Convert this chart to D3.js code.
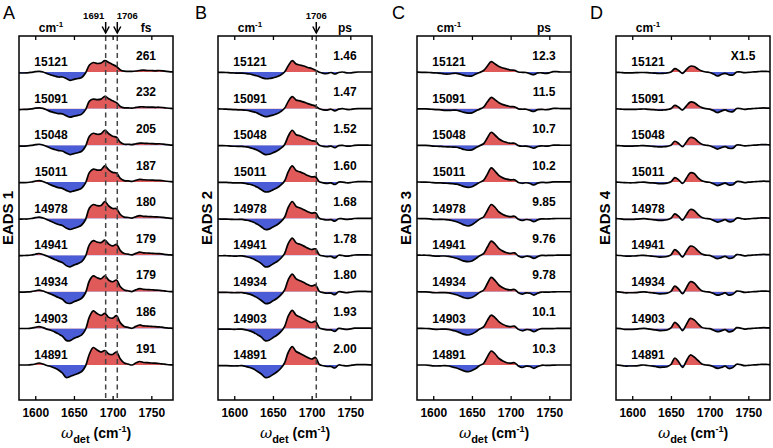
<!DOCTYPE html>
<html><head><meta charset="utf-8">
<script src="https://cdn.jsdelivr.net/npm/d3@7"></script>
<style>body{margin:0;background:#fff;} svg{display:block;font-family:"Liberation Sans",Arial,sans-serif;}</style>
</head><body><svg id="c" width="773" height="448"></svg>
<script>
// ---------- data ----------
const wavenumbers = [1575,1580,1585,1590,1595,1600,1605,1610,1615,1620,1625,1630,1635,1640,1645,1650,1655,1660,1665,1670,1675,1680,1685,1690,1695,1700,1705,1710,1715,1720,1725,1730,1735,1740,1745,1750,1755,1760,1765,1770,1775,1780];
const traceLabels = ["15121","15091","15048","15011","14978","14941","14934","14903","14891"];
const timesA = ["261","232","205","187","180","179","179","186","191"];
const timesB = ["1.46","1.47","1.52","1.60","1.68","1.78","1.80","1.93","2.00"];
const timesC = ["12.3","11.5","10.7","10.2","9.85","9.76","9.78","10.1","10.3"];
const xTicks = [1600,1650,1700,1750];
const markersA = [1691,1706];
const markersB = [1706];

const eads1 = [
[-1,-1,-1,-0.8,-0.3,0.3,0.6,0,-1.5,-3,-4,-5,-5,-6.5,-8.3,-7.3,-6.5,-5.5,-1,7,9.5,8.5,9,11.3,9.5,7.5,5.5,2,0.8,0.7,0.7,1,1.5,1.8,1.5,1.5,1.2,1.5,1.2,0.6,0.2,0],
[-1,-1,-0.8,-0.8,-0.3,0.5,0.8,0.2,-1.3,-3,-4,-5,-5.2,-7,-8.5,-7.5,-6.8,-5.5,-1,7.5,9.5,9,9.5,12.3,9.8,7.8,6,2.2,0.8,0.8,0.5,1.2,1.8,1.8,1.5,1.5,1.3,1.4,1.1,0.6,0.2,0],
[-0.8,-0.8,-0.8,-0.7,-0.2,0.6,1,0.3,-1.2,-3,-4.2,-5.3,-5.8,-7.8,-9.3,-8.3,-7.5,-6,-1,9,12,11,11.5,15,11.5,9,8,3,1,1,0.6,1.5,2.2,2,1.8,1.7,1.4,1.5,1.1,0.6,0.2,0],
[-0.7,-0.7,-0.7,-0.6,-0.1,0.7,1.2,0.4,-1.2,-3,-4.5,-5.8,-6.5,-8.5,-10,-9,-8,-6.2,-1,9.5,12.8,11.8,12,16,12,9.5,8.8,3.5,1.2,1,0.5,1.6,2.5,2.1,1.9,1.8,1.5,1.5,1.1,0.6,0.2,0],
[-0.6,-0.6,-0.5,-0.5,0,0.8,1.4,0.5,-1,-2.8,-4.5,-6,-7,-9.5,-11,-9.8,-8.5,-6.5,-1,10.5,14,12.8,13,17,12.5,10,9.8,4,1.4,1,0.4,1.8,2.8,2.2,2,1.9,1.6,1.5,1.1,0.6,0.2,0],
[-0.4,-0.4,-0.4,-0.3,0.1,0.9,1.6,0.6,-0.9,-2.5,-4.3,-6,-7.3,-10.5,-11.7,-10,-8.5,-6.5,-1,10.5,14.5,13,12.5,15,11,9.2,10.7,4.5,1.6,1,0.3,1.8,3,2.3,2.1,1.9,1.6,1.5,1,0.5,0.2,0],
[-0.3,-0.3,-0.3,-0.2,0.2,0.9,1.7,0.7,-0.8,-2.2,-4,-5.8,-7.5,-11,-11.7,-10,-8.5,-6.5,-1,11,15.8,14,13,16,11.5,10,11.7,5,1.8,1,0.2,1.9,3.2,2.4,2.2,2,1.7,1.5,1,0.5,0.2,0],
[-0.1,-0.1,-0.1,-0.1,0.2,1,1.8,0.8,-0.7,-1.8,-3.5,-5.5,-7.8,-12,-12.3,-10,-8.5,-6.5,-1,11.5,17.5,14.8,13,15,11,10.2,12.7,5.5,1.9,1,0.1,2,3.4,2.5,2.3,2,1.8,1.5,1,0.5,0.2,0],
[0,0,0,0,0.3,1,2,1,-0.5,-1.5,-3,-5,-8,-12.5,-11.5,-10,-8.5,-6.5,-1,11,17.5,15,13,14.5,11,10.5,13,6,2,1,0,2,3.5,2.5,2.3,2,1.8,1.5,1,0.5,0.2,0]
];
const eads2 = [
[-0.3,-0.3,-0.3,-0.5,-0.8,-1,-1.2,-1.2,-1.5,-2,-3,-4,-5.5,-6.7,-6.5,-5.8,-4.8,-3,0,6.5,11.3,8,7,6,4.5,3.5,1.7,-0.3,-1.3,-1.5,-0.5,-2,-0.5,0,-0.8,-1,-0.3,0,0,0,0,0],
[-0.3,-0.3,-0.4,-0.5,-0.8,-1,-1.2,-1.2,-1.6,-2.2,-3.2,-4.5,-6.5,-8,-7.5,-6.5,-5.2,-3,0.3,7.5,12,8.5,7.8,6.5,5,3.8,2.5,-0.2,-1.2,-1.5,-0.6,-2.2,-0.5,0,-0.8,-0.9,-0.3,0,0,0,0,0],
[-0.4,-0.4,-0.4,-0.5,-0.8,-1,-1.1,-1.1,-1.6,-2.3,-3.5,-5,-7.3,-9.3,-9,-7.5,-5.8,-3.2,0.6,9.5,15,10.5,9.5,7.8,6,4.5,4,0,-1.1,-1.5,-0.8,-2.5,-0.4,-0.1,-0.9,-0.8,-0.2,0.1,0.1,0.1,0,0],
[-0.5,-0.5,-0.5,-0.5,-0.8,-1,-1,-1,-1.6,-2.4,-3.7,-5.4,-7.8,-10,-9.8,-8,-6.2,-3.3,0.9,10.5,16,11.3,10,8.3,6.4,5,5,0.1,-1,-1.5,-1,-2.6,-0.3,-0.2,-0.9,-0.7,-0.1,0.2,0.2,0.2,0.1,0],
[-0.5,-0.5,-0.6,-0.6,-0.8,-1,-1,-0.9,-1.6,-2.4,-3.8,-5.8,-8.3,-11,-10.6,-8.5,-6.5,-3.4,1.2,11.5,17,12,10.5,8.7,6.8,5.4,5.8,0.2,-0.9,-1.5,-1.2,-2.7,-0.2,-0.3,-0.9,-0.6,0,0.2,0.2,0.2,0.1,0],
[-0.6,-0.6,-0.6,-0.6,-0.8,-1,-0.9,-0.8,-1.5,-2.4,-3.9,-6,-8.5,-11.7,-11.2,-8.8,-6.7,-3.4,1.5,12,17,12.3,10.8,9,7,5.6,6.3,0.3,-0.8,-1.5,-1.3,-2.8,-0.1,-0.4,-1,-0.6,0.1,0.3,0.3,0.3,0.1,0],
[-0.6,-0.6,-0.6,-0.6,-0.8,-1,-0.9,-0.8,-1.5,-2.4,-3.9,-6.1,-8.7,-11.7,-11.4,-9,-6.8,-3.4,1.7,12.4,17.7,12.8,11,9.2,7.2,5.8,6.8,0.4,-0.8,-1.5,-1.4,-2.9,0,-0.4,-1,-0.5,0.1,0.3,0.3,0.3,0.1,0],
[-0.7,-0.7,-0.7,-0.7,-0.8,-1,-0.8,-0.7,-1.5,-2.5,-4,-6.3,-8.8,-12.3,-11.8,-9.3,-6.9,-3.5,1.8,12.7,18,13.2,11.3,9.4,7.4,5.9,7.2,0.5,-0.7,-1.5,-1.5,-3,0,-0.5,-1,-0.5,0.2,0.3,0.3,0.3,0.2,0],
[-0.7,-0.7,-0.7,-0.7,-0.8,-1,-0.8,-0.7,-1.5,-2.5,-4,-6.5,-9,-12.5,-12,-9.5,-7,-3.5,2,13,18.3,13.5,11.5,9.5,7.5,6,7.5,0.5,-0.7,-1.5,-1.5,-3,0,-0.5,-1,-0.5,0.2,0.3,0.3,0.3,0.2,0]
];
const eads3 = [
[0,-0.2,-0.3,-0.3,-0.5,-0.8,-1,-1.3,-2,-2,-1.5,-1.3,-2.2,-3.3,-4,-4,-2,-0.5,1.5,6,10.3,8,5.5,4,3,2,1.7,0,-0.3,-0.5,-1.8,-2.7,-1,-0.8,-1.3,-0.8,0.3,0.3,0,0,0,0],
[0,-0.2,-0.3,-0.3,-0.5,-0.8,-1,-1.2,-1.8,-1.8,-1.6,-1.6,-2.6,-3.8,-4.5,-4.3,-2.3,-0.5,1.5,6.8,11.3,8.8,5.8,4,3,2,1.8,-0.2,-0.6,-0.6,-1.8,-2.8,-1,-0.7,-1.1,-0.7,0.2,0.2,0,0,0,0],
[0,-0.1,-0.2,-0.2,-0.4,-0.8,-1,-1.1,-1.5,-1.6,-1.8,-2,-3,-4.3,-5,-4.6,-2.6,-0.5,1.5,7.5,13,10,6.2,4,2.8,2,2,-0.4,-1,-0.8,-1.7,-3,-1.2,-0.6,-0.9,-0.6,0.1,0.1,0,0,0,0],
[0,-0.1,-0.2,-0.2,-0.4,-0.8,-1,-1,-1.3,-1.5,-1.9,-2.3,-3.4,-4.8,-5.5,-4.9,-2.8,-0.5,1.5,7.8,14,10.5,6.3,4,2.7,2,2.1,-0.6,-1.4,-0.9,-1.6,-3.1,-1.3,-0.5,-0.7,-0.5,0,0.1,0,0,0,0],
[0,0,-0.1,-0.1,-0.3,-0.8,-1,-0.9,-1,-1.3,-2.2,-3.3,-4.8,-6.5,-7.5,-6.3,-3.5,-0.6,1.5,8,14,11,6.5,4,2.5,1.9,2.2,-0.8,-2,-1,-1.5,-3.2,-1.4,-0.4,-0.5,-0.4,-0.1,0,0,0,0,0],
[0,0,-0.1,-0.1,-0.3,-0.8,-1,-0.9,-0.9,-1.2,-2.1,-3.1,-4.6,-6,-6.5,-5.8,-3.5,-0.6,1.5,8.1,14,11,6.5,4,2.4,1.8,2.3,-0.9,-2.2,-1.1,-1.5,-3.3,-1.5,-0.3,-0.4,-0.3,-0.2,0,0,0,0,0],
[0,0,-0.1,-0.1,-0.3,-0.8,-1,-0.9,-0.8,-1.1,-2,-3,-4.5,-6,-6.6,-5.8,-3.5,-0.6,1.5,8.2,14.3,11.1,6.5,4,2.4,1.8,2.3,-0.9,-2.3,-1.1,-1.5,-3.3,-1.5,-0.3,-0.4,-0.3,-0.2,0,0,0,0,0],
[0,0,0,-0.1,-0.3,-0.8,-1,-0.8,-0.8,-1,-2,-3,-4.5,-6,-6.6,-5.6,-3.5,-0.6,1.5,8,13.3,10.6,6.5,4,2.3,1.8,2.3,-1,-2.4,-1.2,-1.5,-3.3,-1.5,-0.3,-0.3,-0.3,-0.2,0,0,0,0,0],
[0,0,0,0,-0.3,-0.8,-1,-0.8,-0.7,-1,-2,-3,-4.5,-6,-6.7,-5.5,-3.5,-0.5,1.5,8.3,14,11,6.5,4,2.3,1.8,2.3,-1,-2.5,-1.2,-1.5,-3.3,-1.5,-0.3,-0.3,-0.3,-0.2,0,0,0,0,0]
];
const eads4 = [
[0,-0.3,-0.5,-0.8,-0.8,-0.8,-0.7,-0.5,-0.5,-0.7,-1,-1.2,-1.5,-1.3,-1,0,3.3,1.5,-1.3,2.5,5.8,5.5,3,1,0,-0.5,-2,-4,-2.5,-1.3,-2.8,-3,0,0,-0.7,-0.3,0,0.2,0.5,0.7,0.5,0.3],
[0,-0.3,-0.5,-0.8,-0.8,-0.8,-0.7,-0.5,-0.4,-0.7,-1,-1.2,-1.6,-1.4,-1,0,3.2,1.4,-1.4,2.8,6.5,6,3.2,1,0,-0.5,-2,-3.9,-2.5,-1.3,-2.9,-3,0.1,0,-0.7,-0.3,0,0.2,0.5,0.7,0.5,0.3],
[0,-0.3,-0.5,-0.8,-0.8,-0.8,-0.7,-0.5,-0.4,-0.7,-1,-1.3,-1.7,-1.5,-1.1,0,4,1.8,-1.5,3.3,7.8,7,3.6,1,0,-0.5,-2,-3.8,-2.5,-1.3,-3,-3,0.2,0.1,-0.7,-0.3,0,0.2,0.5,0.7,0.5,0.3],
[0,-0.2,-0.5,-0.8,-0.9,-0.9,-0.7,-0.4,-0.3,-0.7,-1,-1.3,-1.8,-1.7,-1.2,0.1,4.3,2,-1.6,3.7,9,8.3,4,1.1,0,-0.4,-1.9,-3.7,-2.5,-1.3,-3.1,-2.9,0.3,0.2,-0.7,-0.3,0,0.2,0.5,0.7,0.5,0.3],
[0,-0.2,-0.4,-0.9,-0.9,-0.9,-0.7,-0.4,-0.2,-0.6,-1,-1.4,-1.9,-1.8,-1.3,0.2,4.7,2.2,-1.7,3.8,9,8,4,1.1,0,-0.4,-1.9,-3.6,-2.5,-1.2,-3.2,-2.8,0.4,0.2,-0.7,-0.3,0,0.2,0.5,0.7,0.5,0.3],
[0,-0.1,-0.4,-0.9,-0.9,-0.9,-0.7,-0.4,-0.2,-0.6,-1,-1.4,-2,-1.9,-1.4,0.3,5.5,2.5,-1.9,3.8,9,8,4.2,1.1,0,-0.3,-1.9,-3.5,-2.5,-1.2,-3.3,-2.7,0.5,0.2,-0.7,-0.3,0,0.2,0.5,0.7,0.5,0.3],
[0,-0.1,-0.3,-1,-1,-1,-0.8,-0.3,-0.1,-0.5,-1,-1.5,-2.1,-2,-1.5,0.3,5.7,2.6,-2,4,10,8.8,4.4,1,0,-0.3,-1.8,-3.4,-2.5,-1.2,-3.4,-2.6,0.6,0.3,-0.7,-0.3,0,0.2,0.5,0.7,0.5,0.3],
[0,0,-0.3,-1,-1,-1,-0.8,-0.3,0,-0.5,-1,-1.5,-2.2,-2.1,-1.6,0.4,6,2.8,-2.2,4,10,8.5,4.5,1,0,-0.3,-1.8,-3.3,-2.5,-1.2,-3.5,-2.5,0.7,0.3,-0.7,-0.3,0,0.2,0.5,0.7,0.5,0.3],
[0,0,-0.3,-1,-1,-1,-0.8,-0.3,0,-0.5,-1,-1.5,-2.3,-2.2,-1.7,0.5,7,3,-2.3,4,10,8,4.5,1,0,-0.3,-1.8,-3.3,-2.5,-1.2,-3.5,-2.5,0.7,0.3,-0.7,-0.3,0,0.2,0.5,0.7,0.5,0.3]
];

// ---------- layout ----------
const panels = [
  {letter:"A", title:"EADS 1", unit:"fs", times:timesA, data:eads1, markers:markersA, left:19, letterX:3},
  {letter:"B", title:"EADS 2", unit:"ps", times:timesB, data:eads2, markers:markersB, left:218, letterX:195},
  {letter:"C", title:"EADS 3", unit:"ps", times:timesC, data:eads3, markers:[], left:417, letterX:392},
  {letter:"D", title:"EADS 4", unit:"", times:null, data:eads4, markers:[], left:616, letterX:590, note:"X1.5"}
];
const W = 154, TOP = 36, BOT = 400;
const RED = "#e05a5a", BLUE = "#4a5cd6";
const svg = d3.select("#c");
const defs = svg.append("defs");
const rowY = d3.scalePoint().domain(traceLabels).range([72, 365]);
const amp = d3.scaleLinear().domain([0, 10]).range([0, -10]);

panels.forEach((p, pi) => {
  const L = p.left;
  const x = d3.scaleLinear().domain([1579, 1778]).range([L, L + W]);
  const g = svg.append("g");
  const clipId = "frame" + pi;
  defs.append("clipPath").attr("id", clipId).append("rect")
    .attr("x", L).attr("y", TOP).attr("width", W).attr("height", BOT - TOP);
  const plot = g.append("g").attr("clip-path", `url(#${clipId})`);
  const curve = d3.curveCatmullRom.alpha(0.5);

  p.data.forEach((vals, i) => {
    const y0 = rowY(traceLabels[i]);
    const pts = wavenumbers.map((w, k) => [w, vals[k]]);
    const area = d3.area().x(d => x(d[0])).y0(y0).y1(d => y0 + amp(d[1])).curve(curve);
    const line = d3.line().x(d => x(d[0])).y(d => y0 + amp(d[1])).curve(curve);
    const cp = `cp${pi}_${i}`, cn = `cn${pi}_${i}`;
    defs.append("clipPath").attr("id", cp).append("rect").attr("x", L).attr("y", y0 - 30).attr("width", W).attr("height", 30);
    defs.append("clipPath").attr("id", cn).append("rect").attr("x", L).attr("y", y0).attr("width", W).attr("height", 30);
    const tg = plot.append("g");
    tg.append("g").attr("clip-path", `url(#${cp})`).append("path").attr("d", area(pts)).attr("fill", RED);
    tg.append("g").attr("clip-path", `url(#${cn})`).append("path").attr("d", area(pts)).attr("fill", BLUE);
    tg.append("path").attr("d", line(pts)).attr("fill", "none").attr("stroke", "#000")
      .attr("stroke-width", 1.7).attr("stroke-linejoin", "round");

    g.append("text").attr("x", L + 32).attr("y", y0 - 10).attr("dy", "0.35em")
      .attr("text-anchor", "middle").attr("font-size", 12).attr("font-weight", "bold").text(traceLabels[i]);
    if (p.times) {
      g.append("text").attr("x", L + 127).attr("y", y0 - 16.5).attr("dy", "0.35em")
        .attr("text-anchor", "middle").attr("font-size", 12).attr("font-weight", "bold").text(p.times[i]);
    }
  });
  if (p.note) {
    g.append("text").attr("x", L + 127).attr("y", rowY(traceLabels[0]) - 16.5).attr("dy", "0.35em")
      .attr("text-anchor", "middle").attr("font-size", 12).attr("font-weight", "bold").text(p.note);
  }

  // dashed marker lines + arrows
  p.markers.forEach((m, mi) => {
    g.append("line").attr("x1", x(m)).attr("x2", x(m)).attr("y1", TOP).attr("y2", BOT)
      .attr("stroke", "#444").attr("stroke-width", 1.5).attr("stroke-dasharray", "5,3.5");
    g.append("line").attr("x1", x(m)).attr("x2", x(m)).attr("y1", 22).attr("y2", 32.5)
      .attr("stroke", "#000").attr("stroke-width", 1.5);
    g.append("path").attr("d", `M${x(m) - 3.5},${26.5}L${x(m)},${33}L${x(m) + 3.5},${26.5}`)
      .attr("fill", "none").attr("stroke", "#000").attr("stroke-width", 1.5);
    let lx = x(m);
    if (p.markers.length === 2) lx = mi === 0 ? x(m) - 12 : x(m) + 10;
    g.append("text").attr("x", lx).attr("y", 19).attr("text-anchor", "middle")
      .attr("font-size", 9.5).attr("font-weight", "bold").text(m);
  });

  // frame
  g.append("rect").attr("x", L).attr("y", TOP).attr("width", W).attr("height", BOT - TOP)
    .attr("fill", "none").attr("stroke", "#000").attr("stroke-width", 1.5);

  // axes (ticks inward)
  const bottom = g.append("g").attr("transform", `translate(0,${BOT})`)
    .call(d3.axisBottom(x).tickValues(xTicks).tickSize(-4).tickPadding(8).tickFormat(d3.format("d")));
  bottom.select(".domain").remove();
  bottom.selectAll("line").attr("stroke-width", 1.3);
  bottom.selectAll("text").attr("font-size", 12).attr("font-weight", "bold")
    .attr("font-family", "Liberation Sans, Arial, sans-serif").attr("fill", "#000");
  const top = g.append("g").attr("transform", `translate(0,${TOP})`)
    .call(d3.axisTop(x).tickValues(xTicks).tickSize(-4).tickFormat(""));
  top.select(".domain").remove();
  top.selectAll("line").attr("stroke-width", 1.3);

  // top unit labels
  const cm = g.append("text").attr("x", L + 32).attr("y", 32).attr("text-anchor", "middle")
    .attr("font-size", 12).attr("font-weight", "bold");
  cm.append("tspan").text("cm");
  cm.append("tspan").attr("font-size", 8).attr("dy", -5).text("-1");
  if (p.unit) {
    g.append("text").attr("x", L + 127).attr("y", 32).attr("text-anchor", "middle")
      .attr("font-size", 12).attr("font-weight", "bold").text(p.unit);
  }

  // x title
  const t = g.append("text").attr("x", L + W / 2).attr("y", 438).attr("text-anchor", "middle");
  t.append("tspan").attr("font-size", 15).attr("font-style", "italic").attr("font-family", "DejaVu Serif, serif").text("ω");
  t.append("tspan").attr("font-size", 11).attr("font-weight", "bold").attr("dy", 5).text("det");
  t.append("tspan").attr("font-size", 14).attr("font-weight", "bold").attr("dy", -5).text(" (cm");
  t.append("tspan").attr("font-size", 9).attr("font-weight", "bold").attr("dy", -6).text("-1");
  t.append("tspan").attr("font-size", 14).attr("font-weight", "bold").attr("dy", 6).text(")");

  // panel title (rotated)
  g.append("text").attr("transform", `translate(${L - 11.5},${(TOP + BOT) / 2}) rotate(-90)`)
    .attr("text-anchor", "middle").attr("dy", "0.35em").attr("font-size", 15).attr("font-weight", "bold").text(p.title);

  // panel letter
  g.append("text").attr("x", p.letterX).attr("y", 19).attr("font-size", 18).text(p.letter);
});
</script></body></html>
